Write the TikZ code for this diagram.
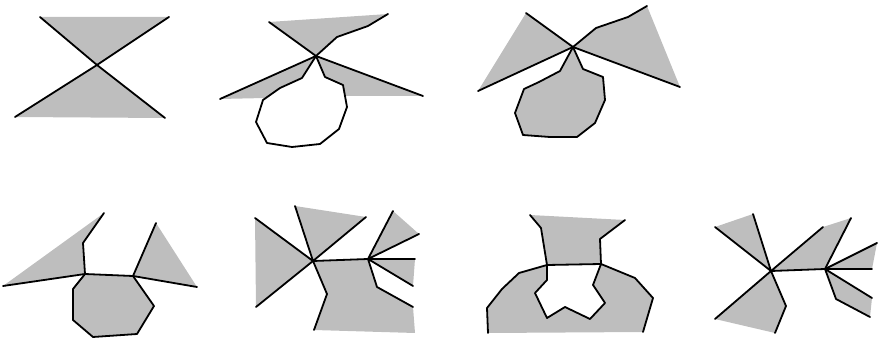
\documentclass[tikz,border=0pt]{standalone}
\usepackage{tikz}
\definecolor{stip}{HTML}{BEBEBE}
\tikzset{
  edge/.style={line width=1.8pt, line join=round, line cap=round},
  wing/.style={fill=stip}
}
\begin{document}
\begin{tikzpicture}[x=1pt,y=-1pt]

\useasboundingbox (0,0) rectangle (878,344);

% Figura 1: clessidra
\coordinate (x1) at (97,65);
\fill[wing] (40,17) -- (169,17) -- (x1) -- cycle;
\fill[wing] (15,117) -- (165,118) -- (x1) -- cycle;
\draw[edge] (40,17) -- (x1) -- (165,118);
\draw[edge] (169,17) -- (x1) -- (15,117);

% Figura 2: ali e cappio vuoto
\coordinate (x2) at (316,56);
\fill[wing] (269,22) -- (x2) -- (337,37) -- (368,26) -- (388,14) -- cycle;
\fill[wing] (x2) -- (220,99) -- (265,98) -- (280,88) -- (302,78) -- cycle;
\fill[wing] (x2) -- (423,96) -- (345,96) -- (343,85) -- (325,77) -- cycle;
\draw[edge] (269,22) -- (x2) -- (337,37) -- (368,26) -- (388,14);
\draw[edge] (220,99) -- (x2) -- (423,96);
\draw[edge] (x2) -- (302,78) -- (280,88) -- (263,100) -- (256,122) -- (267,143)
  -- (292,147) -- (320,144) -- (339,129) -- (347,107) -- (343,85) -- (325,77) -- cycle;

% Figura 3: ali e cappio pieno
\coordinate (x3) at (573,47);
\fill[wing] (x3) -- (526,13) -- (478,91) -- cycle;
\fill[wing] (x3) -- (596,28) -- (628,17) -- (647,6) -- (680,87) -- cycle;
\filldraw[edge,wing] (x3) -- (560,71) -- (539,82) -- (524,89) -- (515,113) -- (523,135)
  -- (550,137) -- (577,137) -- (595,123) -- (605,100) -- (603,77) -- (583,69) -- cycle;
\draw[edge] (526,13) -- (x3) -- (680,87);
\draw[edge] (478,91) -- (x3) -- (596,28) -- (628,17) -- (647,6);

% Figura 4
\coordinate (a4) at (85,274);
\coordinate (b4) at (133,276);
\fill[wing] (3,286) -- (104,213) -- (83,243) -- (a4) -- cycle;
\fill[wing] (b4) -- (156,223) -- (197,287) -- cycle;
\filldraw[edge,wing] (a4) -- (73,289) -- (73,320) -- (93,337) -- (137,334) -- (154,306) -- (b4) -- cycle;
\draw[edge] (3,286) -- (a4) -- (83,243) -- (104,213);
\draw[edge] (156,223) -- (b4) -- (197,287);

% Figura 5
\coordinate (p5) at (313,261);
\coordinate (q5) at (368,259);
\fill[wing] (p5) -- (255,218) -- (256,307) -- cycle;
\fill[wing] (p5) -- (295,206) -- (366,217) -- cycle;
\fill[wing] (q5) -- (393,211) -- (419,234) -- cycle;
\fill[wing] (q5) -- (415,259) -- (413,286) -- cycle;
\fill[wing] (p5) -- (q5) -- (377,287) -- (413,307) -- (415,333) -- (314,330) -- (327,294) -- cycle;
\draw[edge] (255,218) -- (p5) -- (256,307);
\draw[edge] (295,206) -- (p5) -- (366,217);
\draw[edge] (314,330) -- (327,294) -- (p5) -- (q5) -- (415,259);
\draw[edge] (393,211) -- (q5) -- (419,234);
\draw[edge] (q5) -- (413,286);
\draw[edge] (q5) -- (377,287) -- (413,307);

% Figura 6: arco con incavo
\fill[wing] (530,215) -- (625,220) -- (600,239) -- (601,264) -- (547,265) -- (541,228) -- cycle;
\draw[edge] (530,215) -- (541,228) -- (547,265) -- (601,264) -- (600,239) -- (625,220);
\fill[wing] (488,333) -- (487,308) -- (502,289) -- (519,273) -- (547,265) -- (547,280)
  -- (535,293) -- (547,318) -- (565,307) -- (590,319) -- (605,303) -- (593,285)
  -- (601,264) -- (635,278) -- (653,298) -- (643,332) -- cycle;
\draw[edge] (488,333) -- (487,308) -- (502,289) -- (519,273) -- (547,265) -- (547,280)
  -- (535,293) -- (547,318) -- (565,307) -- (590,319) -- (605,303) -- (593,285)
  -- (601,264) -- (635,278) -- (653,298) -- (643,332);

% Figura 7
\coordinate (p7) at (771,271);
\coordinate (q7) at (825,269);
\fill[wing] (p7) -- (715,227) -- (753,214) -- cycle;
\fill[wing] (p7) -- (715,319) -- (775,333) -- (786,306) -- cycle;
\fill[wing] (p7) -- (823,227) -- (851,218) -- (q7) -- cycle;
\fill[wing] (q7) -- (877,243) -- (872,269) -- cycle;
\fill[wing] (q7) -- (872,298) -- (870,317) -- (836,299) -- cycle;
\draw[edge] (715,227) -- (p7) -- (753,214);
\draw[edge] (715,319) -- (p7) -- (786,306) -- (775,333);
\draw[edge] (823,227) -- (p7) -- (q7) -- (851,218);
\draw[edge] (877,243) -- (q7) -- (872,269);
\draw[edge] (q7) -- (872,298);
\draw[edge] (q7) -- (836,299) -- (870,317);

\end{tikzpicture}
\end{document}
